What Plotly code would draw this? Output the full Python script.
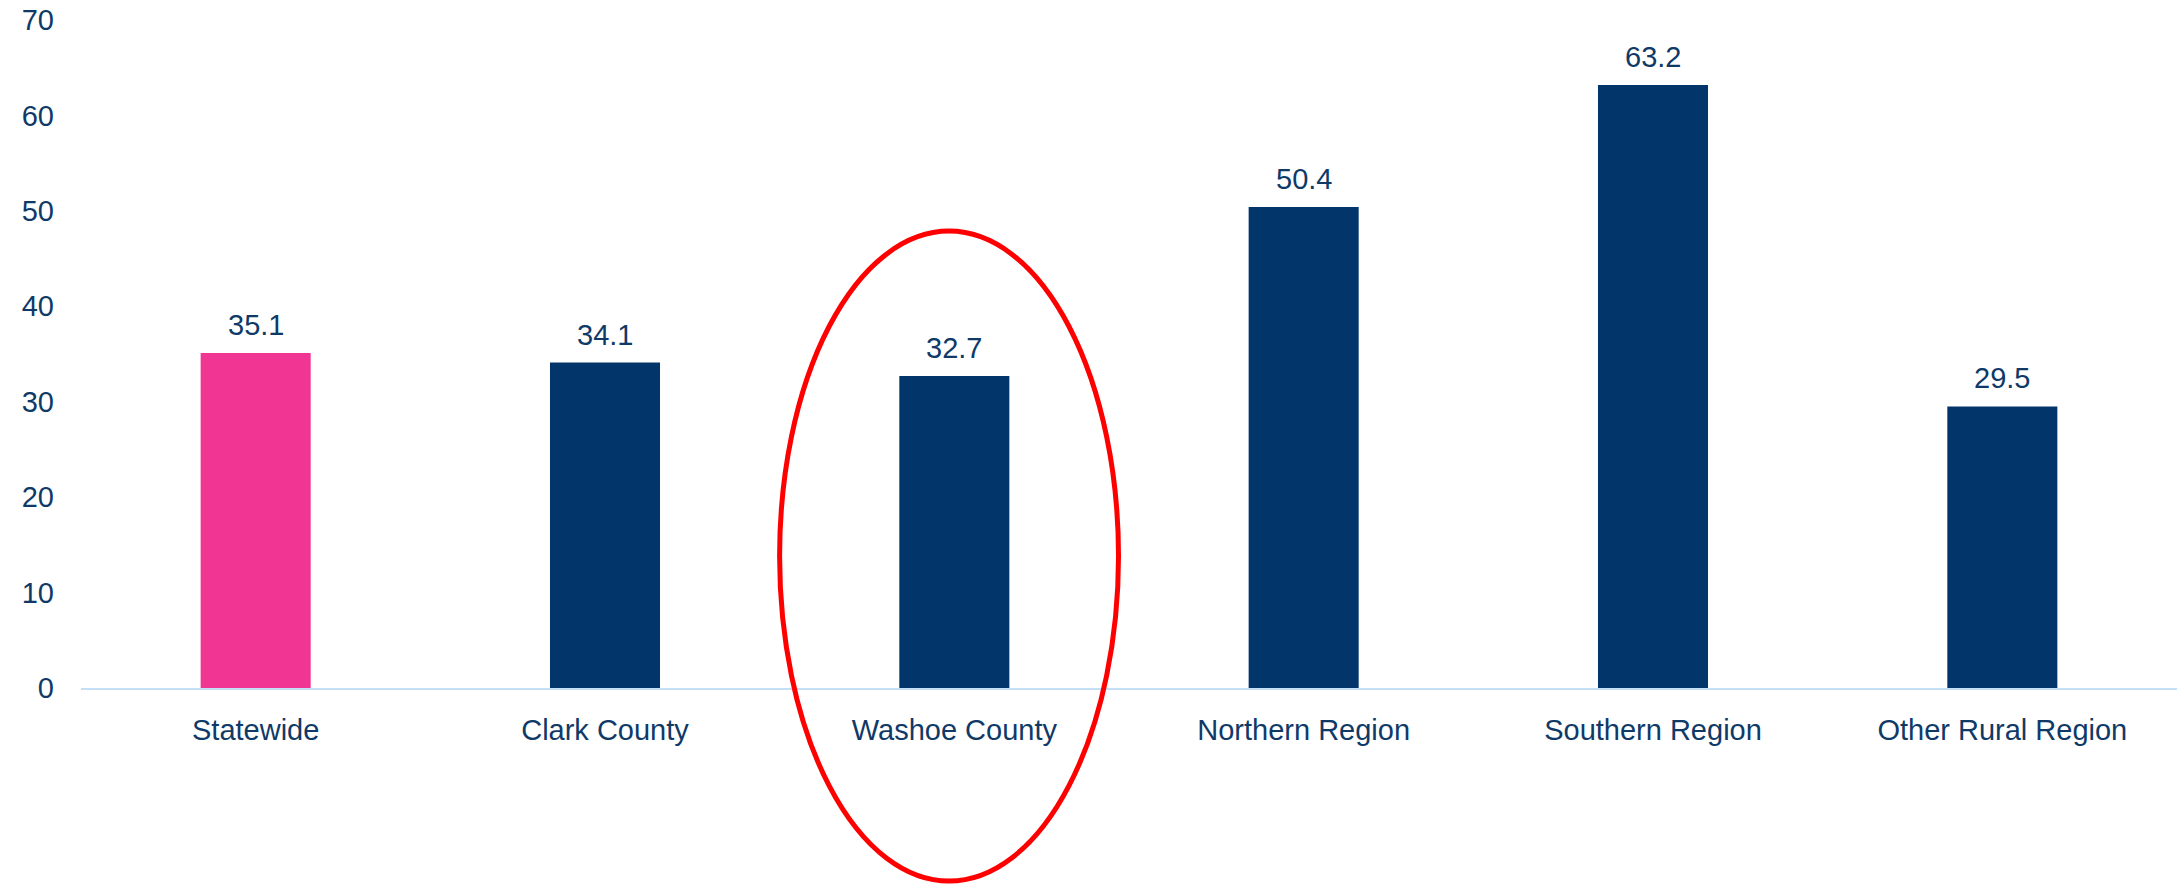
import plotly.graph_objects as go

categories = ["Statewide", "Clark County", "Washoe County", "Northern Region", "Southern Region", "Other Rural Region"]
values = [35.1, 34.1, 32.7, 50.4, 63.2, 29.5]
bar_colors = ["#F03592", "#02356A", "#02356A", "#02356A", "#02356A", "#02356A"]
y_ticks = [0, 10, 20, 30, 40, 50, 60, 70]

TEXT = "#0F3A68"
FONT = "Liberation Sans"

fig = go.Figure()
fig.add_trace(go.Bar(x=categories, y=values, marker=dict(color=bar_colors, line=dict(width=0)),
                     hoverinfo="skip"))

for c, v in zip(categories, values):
    fig.add_annotation(x=c, y=v, text=f"{v:.1f}", showarrow=False, yanchor="bottom",
                       yshift=10, font=dict(family=FONT, size=29, color=TEXT))

# highlight ellipse around Washoe County (paper coordinates so it is not clipped)
fig.add_shape(type="circle", xref="paper", yref="paper", x0=0.3333, x1=0.4950, y0=-0.289, y1=0.684,
              line=dict(color="#FF0000", width=5), layer="above")

fig.update_layout(
    width=2178, height=887,
    margin=dict(l=81, r=1, t=20, b=199, autoexpand=False),
    paper_bgcolor="white", plot_bgcolor="white",
    bargap=0.685, showlegend=False,
    font=dict(family=FONT, size=29, color=TEXT),
)
fig.update_xaxes(showline=True, linecolor="#C3DEF5", linewidth=2, showgrid=False, automargin=False,
                 ticks="", ticklabelstandoff=15, tickfont=dict(family=FONT, size=29, color=TEXT))
fig.update_yaxes(range=[0, 70], tickvals=y_ticks, showgrid=False, zeroline=False, showline=False,
                 automargin=False, ticks="", ticklabelstandoff=26, ticklabeloverflow="allow",
                 tickfont=dict(family=FONT, size=29, color=TEXT))

# remove the default page margin so the figure fills the window exactly
fig.write_html("out.html", config={"displayModeBar": False},
               post_script="document.body.style.margin='0';document.body.style.overflow='hidden';")
